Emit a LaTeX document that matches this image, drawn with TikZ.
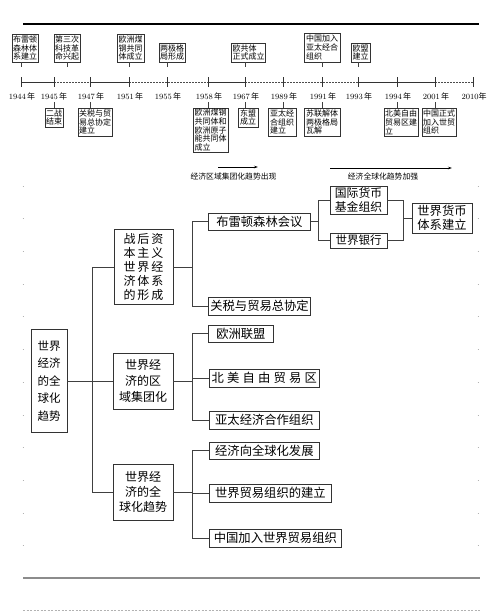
\documentclass[tikz,border=0pt]{standalone}
\usepackage{fontspec}
\newfontfamily\cjk{Noto Sans CJK SC}
\usetikzlibrary{arrows.meta}
\newcommand\gapA{\hspace{2pt}}
\newcommand\gapB{\hspace{3.2pt}}
\tikzset{
 tbox/.style={draw=black!80, line width=0.6pt, inner xsep=0.9pt, inner ysep=0.6pt, font=\cjk\fontsize{8}{8.9}\selectfont, align=left},
 yrlab/.style={inner sep=0pt, font=\fontsize{8}{9}\selectfont},
 mbox/.style={draw=black!80, line width=0.7pt, inner xsep=2pt, inner ysep=0pt, font=\cjk\fontsize{12.3}{14}\selectfont, align=center},
 link/.style={draw=black!75, line width=0.7pt},
 stub/.style={draw=black!75, line width=0.5pt},
 solidseg/.style={draw=black!80, line width=0.6pt},
 dotseg/.style={draw=black!70, line width=0.6pt, dash pattern=on 1.5pt off 1.5pt},
 trend/.style={inner sep=0pt, font=\cjk\fontsize{7.8}{9}\selectfont},
 marginmark/.style={draw=black!30, line width=0.8pt},
}
\begin{document}
\begin{tikzpicture}[x=1pt,y=-1pt]
\useasboundingbox (0,0) rectangle (500,613);
\fill[white] (0,0) rectangle (500,613);

% top thick rule
\draw[line width=2.6pt] (23,24) -- (479,24);

% timeline coordinates
\coordinate (y1944) at (21,82);
\coordinate (y1945) at (54,82);
\coordinate (y1947) at (90,82);
\coordinate (y1951) at (129,82);
\coordinate (y1955) at (167,82);
\coordinate (y1958) at (208,82);
\coordinate (y1967) at (245,82);
\coordinate (y1989) at (283,82);
\coordinate (y1991) at (322,82);
\coordinate (y1993) at (358,82);
\coordinate (y1994) at (397,82);
\coordinate (y2001) at (435,82);
\coordinate (y2010) at (473,82);
\coordinate (st) at (0,67);
\coordinate (sb) at (0,102);

\draw[solidseg] (y1944) -- (y1945);
\draw[dotseg] (y1945) -- (y1947);
\draw[solidseg] (y1947) -- (y1951);
\draw[dotseg] (y1951) -- (y1958);
\draw[solidseg] (y1958) -- (y1967);
\draw[dotseg] (y1967) -- (y1993);
\draw[solidseg] (y1993) -- (y2001);
\draw[dotseg] (y2001) -- (y2010);
\foreach \p in {y1944,y1945,y1947,y1951,y1955,y1958,y1967,y1989,y1991,y1993,y1994,y2001,y2010}
  \draw[solidseg] (\p) ++(0,-5) -- ++(0,10);

% year labels
\node[yrlab] (l1944) at (22,96) {1944\,{\cjk 年}};
\node[yrlab] (l1945) at (54,96) {1945\,{\cjk 年}};
\node[yrlab] (l1947) at (91,96) {1947\,{\cjk 年}};
\node[yrlab] (l1951) at (130,96) {1951\,{\cjk 年}};
\node[yrlab] (l1955) at (168,96) {1955\,{\cjk 年}};
\node[yrlab] (l1958) at (209,96) {1958\,{\cjk 年}};
\node[yrlab] (l1967) at (246,96) {1967\,{\cjk 年}};
\node[yrlab] (l1989) at (284,96) {1989\,{\cjk 年}};
\node[yrlab] (l1991) at (323,96) {1991\,{\cjk 年}};
\node[yrlab] (l1993) at (359,96) {1993\,{\cjk 年}};
\node[yrlab] (l1994) at (398,96) {1994\,{\cjk 年}};
\node[yrlab] (l2001) at (436,96) {2001\,{\cjk 年}};
\node[yrlab] (l2010) at (474,96) {2010{\cjk 年}};

% boxes above the timeline
\node[tbox, minimum width=26pt, minimum height=28pt] (t1) at (25,48) {布雷顿\\森林体\\系建立};
\node[tbox, minimum width=26pt, minimum height=28pt] (t2) at (67,48) {第三次\\科技革\\命兴起};
\node[tbox, minimum width=27pt, minimum height=28pt] (t3) at (130.5,48) {欧洲煤\\钢共同\\体成立};
\node[tbox, minimum width=26pt, minimum height=19pt] (t4) at (172,52.5) {两极格\\局形成};
\node[tbox, minimum width=33pt, minimum height=19pt] (t5) at (248.5,52.5) {欧共体\\正式成立};
\node[tbox, minimum width=36pt, minimum height=29pt] (t6) at (322,47.5) {中国加入\\亚太经合\\组织};
\node[tbox, minimum width=19pt, minimum height=19pt] (t7) at (360.5,52.5) {欧盟\\建立};

\draw[stub] (t1.south -| y1944) -- (y1944 |- st);
\draw[stub] (t2.south) -- (t2.south |- st);
\draw[stub] (t3.south -| y1951) -- (y1951 |- st);
\draw[stub] (t4.south -| y1955) -- (y1955 |- st);
\draw[stub] (t5.south -| y1967) -- (y1967 |- st);
\draw[stub] (t6.south -| y1991) -- (y1991 |- st);
\draw[stub] (t7.south -| y1993) -- (y1993 |- st);

% boxes below the timeline
\node[tbox, minimum width=18pt, minimum height=19pt] (b1) at (54,117.5) {二战\\结束};
\node[tbox, minimum width=34pt, minimum height=28pt] (b2) at (95,122) {关税与贸\\易总协定\\建立};
\node[tbox, minimum width=35pt, minimum height=44pt] (b3) at (210.5,130) {欧洲煤钢\\共同体和\\欧洲原子\\能共同体\\成立};
\node[tbox, minimum width=20pt, minimum height=19pt] (b4) at (248,117.5) {东盟\\成立};
\node[tbox, minimum width=28pt, minimum height=28pt] (b5) at (282,122) {亚太经\\合组织\\建立};
\node[tbox, minimum width=36pt, minimum height=28pt] (b6) at (322,122) {苏联解体\\两极格局\\瓦解};
\node[tbox, minimum width=34pt, minimum height=28pt] (b7) at (401,122) {北美自由\\贸易区建\\立};
\node[tbox, minimum width=34pt, minimum height=28pt] (b8) at (439,122) {中国正式\\加入世贸\\组织};

\draw[stub] (y1945 |- sb) -- (y1945 |- b1.north);
\draw[stub] (y1947 |- sb) -- (y1947 |- b2.north);
\draw[stub] (y1958 |- sb) -- (y1958 |- b3.north);
\draw[stub] (y1967 |- sb) -- (y1967 |- b4.north);
\draw[stub] (y1989 |- sb) -- (y1989 |- b5.north);
\draw[stub] (y1991 |- sb) -- (y1991 |- b6.north);
\draw[stub] (y1994 |- sb) -- (y1994 |- b7.north);
\draw[stub] (y2001 |- sb) -- (y2001 |- b8.north);

% trend arrows
\coordinate (a1s) at (218,167);
\coordinate (a1e) at (258,167);
\coordinate (a2s) at (330,168);
\coordinate (a2e) at (452,168);
\draw[line width=0.6pt, -{Stealth[length=4pt,width=2.5pt]}] (a1s) -- (a1e);
\draw[line width=0.6pt, -{Stealth[length=4pt,width=2.5pt]}] (a2s) -- (a2e);
\node[trend] (tr1) at (233.5,177) {经济区域集团化趋势出现};
\node[trend] (tr2) at (383,177) {经济全球化趋势加强};

% main tree
\node[mbox, minimum width=36pt, minimum height=103pt, font=\cjk\fontsize{11.5}{17.5}\selectfont] (R) at (49,381) {世界\\经济\\的全\\球化\\趋势};
\node[mbox, minimum width=59pt, minimum height=75pt, font=\cjk\fontsize{12}{14}\selectfont] (A) at (143.5,267) {战\gapA 后\gapA 资\\本\gapA 主\gapA 义\\世\gapA 界\gapA 经\\济\gapA 体\gapA 系\\的\gapA 形\gapA 成};
\node[mbox, minimum width=60pt, minimum height=56pt, font=\cjk\fontsize{12}{16}\selectfont] (B) at (143,381) {世界经\\济的区\\域集团化};
\node[mbox, minimum width=60pt, minimum height=56pt, font=\cjk\fontsize{12}{15}\selectfont] (C) at (143,492) {世界经\\济的全\\球化趋势};

\node[mbox, anchor=west, minimum width=102pt, minimum height=17pt] (L1) at (208,221.5) {布雷顿森林会议};
\node[mbox, anchor=west, minimum width=102pt, minimum height=18pt] (L2) at (208,306) {关税与贸易总协定};
\node[mbox, anchor=west, minimum width=65pt, minimum height=17pt] (L3) at (208,333.5) {欧洲联盟};
\node[mbox, anchor=west, minimum width=110pt, minimum height=18pt] (L4) at (209,378) {北\gapB 美\gapB 自\gapB 由\gapB 贸\gapB 易\gapB 区};
\node[mbox, anchor=west, minimum width=110pt, minimum height=18pt] (L5) at (209,420) {亚太经济合作组织};
\node[mbox, anchor=west, minimum width=110pt, minimum height=17pt] (L6) at (209,450.5) {经济向全球化发展};
\node[mbox, anchor=west, minimum width=122pt, minimum height=18pt] (L7) at (209,493) {世界贸易组织的建立};
\node[mbox, anchor=west, minimum width=132pt, minimum height=18pt] (L8) at (209,538) {中国加入世界贸易组织};

\node[mbox, minimum width=57pt, minimum height=28pt, font=\cjk\fontsize{11.8}{13.3}\selectfont] (G1) at (358.5,200) {国际货币\\基金组织};
\node[mbox, minimum width=57pt, minimum height=15pt, font=\cjk\fontsize{11.5}{13}\selectfont] (G2) at (358.5,240.5) {世界银行};
\node[mbox, minimum width=60pt, minimum height=30pt, font=\cjk\fontsize{12.3}{14}\selectfont] (W) at (442,218) {世界货币\\体系建立};

\coordinate (trunk) at (92,0);
\coordinate (bus) at (192,0);
\coordinate (bus2) at (318,0);
\coordinate (bus3) at (403,0);

\draw[link] (R.east) -- (B.west);
\draw[link] (A.west) -- (A.west -| trunk) -- (C.west -| trunk) -- (C.west);

\draw[link] (A.east) -- (A.east -| bus);
\draw[link] (L1.west) -- (L1.west -| bus) -- (L2.west -| bus) -- (L2.west);

\draw[link] (B.east) -- (B.east -| bus);
\draw[link] (L3.west) -- (L3.west -| bus) -- (L5.west -| bus) -- (L5.west);
\draw[link] (L4.west -| bus) -- (L4.west);

\draw[link] (C.east) -- (C.east -| bus);
\draw[link] (L6.west) -- (L6.west -| bus) -- (L8.west -| bus) -- (L8.west);
\draw[link] (L7.west -| bus) -- (L7.west);

\draw[link] (L1.east) -- (L1.east -| bus2);
\draw[link] (G1.west) -- (G1.west -| bus2) -- (G2.west -| bus2) -- (G2.west);
\draw[link] (G1.east) -- (G1.east -| bus3) -- (G2.east -| bus3) -- (G2.east);
\draw[link] (W.west -| bus3) -- (W.west);

% bottom rules
\draw[draw=black!45, line width=1.6pt] (23,578) -- (480,578);
\draw[draw=black!30, line width=0.8pt, dash pattern=on 2pt off 1.5pt] (23,610) -- (480,610);

% margin marks
\foreach \k in {0,...,11} {
  \draw[marginmark] (22.5,186+\k*32.7) -- (24,186+\k*32.7);
  \draw[marginmark] (477.5,186+\k*32.7) -- (479,186+\k*32.7);
}
\end{tikzpicture}
\end{document}
